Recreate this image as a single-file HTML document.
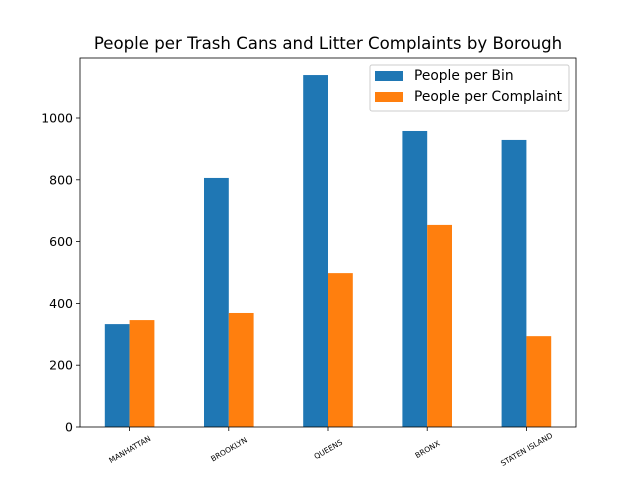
<!DOCTYPE html>
<html><head><meta charset="utf-8"><style>
html,body{margin:0;padding:0;background:#fff;width:640px;height:480px;overflow:hidden}
text{font-family:"DejaVu Sans","Liberation Sans",sans-serif}
</style></head><body>
<svg id="chart" width="640" height="480" viewBox="0 0 640 480" xmlns="http://www.w3.org/2000/svg">
<rect x="0" y="0" width="640" height="480" fill="#fff"/>
<text x="328" y="49" font-size="16.6" text-anchor="middle" fill="#000">People per Trash Cans and Litter Complaints by Borough</text>
<g id="bars"></g>
<g id="axes"></g>
<g>
<rect x="370" y="65" width="199" height="46" fill="#fff" stroke="#ccc" rx="2"/>
<rect x="375" y="71" width="28" height="10" fill="#1f77b4"/>
<text x="414" y="80" font-size="13.8">People per Bin</text>
<rect x="375" y="92" width="28" height="10" fill="#ff7f0e"/>
<text x="414" y="101" font-size="13.8">People per Complaint</text>
</g>
</svg>
<script>
const categories = ["MANHATTAN","BROOKLYN","QUEENS","BRONX","STATEN ISLAND"];
const peoplePerBin = [333, 806, 1139, 958, 929];
const peoplePerComplaint = [346, 369, 498, 654, 294];
const yTicks = [0, 200, 400, 600, 800, 1000];

const NS = "http://www.w3.org/2000/svg";
const L = 80, R = 576, T = 58, B = 427;
const yScale = v => B - v * 0.309;
const step = (R - L) / categories.length;
const xCenter = i => L + step * (i + 0.5);
const bw = step * 0.25;

function mk(tag, attrs, parent) {
  const e = document.createElementNS(NS, tag);
  for (const k in attrs) e.setAttribute(k, attrs[k]);
  parent.appendChild(e);
  return e;
}
const bars = document.getElementById("bars");
const axes = document.getElementById("axes");

categories.forEach((c, i) => {
  const cx = xCenter(i);
  const b1 = mk("rect", {x: cx - bw, y: yScale(peoplePerBin[i]), width: bw, height: B - yScale(peoplePerBin[i]), fill: "#1f77b4"}, bars);
  
  
  const b2 = mk("rect", {x: cx, y: yScale(peoplePerComplaint[i]), width: bw, height: B - yScale(peoplePerComplaint[i]), fill: "#ff7f0e"}, bars);
  
  
  const tk = mk("line", {x1: cx, x2: cx, y1: B, y2: B + 4, stroke: "#000", "stroke-width": 0.8}, axes);
  
  
  const lb = mk("text", {x: cx, y: B + 25, "font-size": 7.5, "text-anchor": "middle", transform: `rotate(-30 ${cx} ${B + 22})`}, axes);
  lb.textContent = c;
  
  
});

yTicks.forEach(v => {
  const y = yScale(v);
  const tk = mk("line", {x1: L - 4, x2: L, y1: y, y2: y, stroke: "#000", "stroke-width": 0.8}, axes);
  
  
  const lb = mk("text", {x: L - 7, y: y + 4.5, "font-size": 12.5, "text-anchor": "end"}, axes);
  lb.textContent = v;
  
  
});

const frame = mk("rect", {x: L, y: T, width: R - L, height: B - T, fill: "none", stroke: "#000", "stroke-width": 0.8}, axes);


</script>
</body></html>
